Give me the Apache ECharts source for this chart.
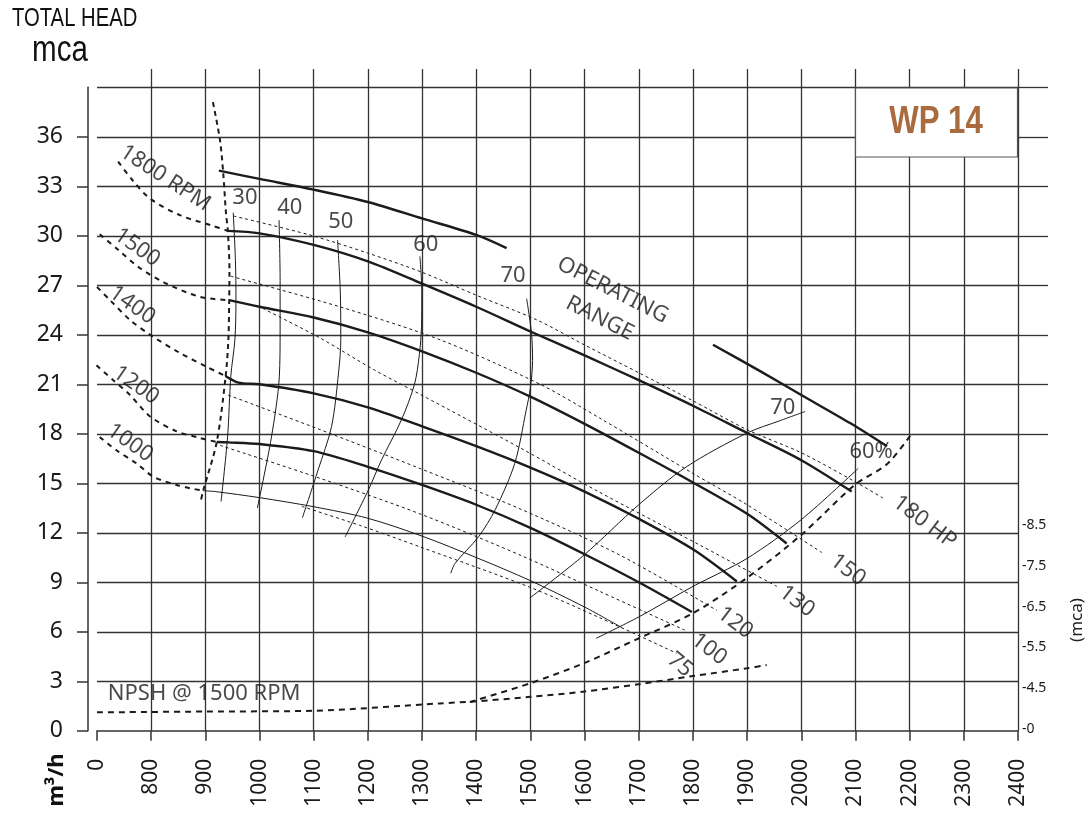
<!DOCTYPE html>
<html>
<head>
<meta charset="utf-8">
<title>WP 14</title>
<script src="https://cdn.jsdelivr.net/npm/echarts@6/dist/echarts.min.js"></script>
<style>
  html, body { margin: 0; padding: 0; background: #fff; }
  #chart { width: 1091px; height: 815px; }
</style>
</head>
<body>
<div id="chart"></div>
<script>
// flow in m3/h (the axis is broken: 700 is printed as "0"), head in mca
const head1800 = [[941, 30.3], [1000, 30.15], [1100, 29.45], [1200, 28.45], [1300, 27.1], [1400, 25.7], [1500, 24.2], [1600, 22.75], [1700, 21.25], [1800, 19.7], [1900, 18.05], [2000, 16.4], [2093, 14.5]];
const head1500 = [[944, 26.1], [1000, 25.7], [1100, 25.05], [1200, 24.15], [1300, 23.0], [1400, 21.7], [1500, 20.25], [1600, 18.6], [1700, 16.85], [1800, 15.05], [1900, 13.15], [1973, 11.35]];
const head1400 = [[937, 21.5], [961, 21.1], [1000, 21.0], [1100, 20.45], [1200, 19.6], [1300, 18.45], [1400, 17.25], [1500, 15.95], [1600, 14.5], [1700, 12.85], [1800, 11.0], [1881, 9.05]];
const head1200 = [[921, 17.5], [942, 17.48], [1000, 17.38], [1100, 16.95], [1200, 16.0], [1300, 14.9], [1400, 13.7], [1500, 12.3], [1600, 10.7], [1700, 9.0], [1798, 7.2]];
const head1000 = [[896, 14.55], [918, 14.5], [1000, 14.13], [1100, 13.58], [1200, 12.88], [1300, 11.8], [1400, 10.5], [1500, 9.1], [1600, 7.5], [1669, 6.25]];

// operating range limits
const rangeTop = [[925, 33.95], [1000, 33.45], [1100, 32.8], [1200, 32.05], [1300, 31.05], [1400, 30.05], [1456, 29.25]];
const rangeRight = [[1837, 23.4], [1924, 21.8], [2000, 20.35], [2090, 18.65], [2158, 17.25]];
const rangeLeft = [[914, 38.1], [927, 35.8], [933, 33.8], [938, 31.4], [941.5, 30.3], [944.5, 27.9], [944, 26.1], [942.5, 23.7], [937.5, 21.5], [921, 17.5], [896, 14.55], [892, 14.0]];

// low flow part of each speed (dashed)
const rpm1800 = [[739, 34.5], [766, 33.35], [798, 32.25], [853, 31.25], [914, 30.6], [941, 30.3]];
const rpm1500 = [[705, 30.1], [739, 29.15], [779, 28.05], [825, 27.15], [890, 26.3], [944, 26.1]];
const rpm1400 = [[700, 26.9], [724, 26.1], [761, 24.9], [798, 24.0], [853, 22.9], [903, 22.05], [937, 21.5]];
const rpm1200 = [[699, 22.15], [730, 21.25], [761, 20.35], [798, 19.05], [847, 18.15], [890, 17.75], [921, 17.5]];
const rpm1000 = [[705, 17.8], [736, 17.0], [773, 16.2], [804, 15.4], [847, 14.9], [872, 14.7], [896, 14.55]];

// efficiency %
const eff30 = [[951.5, 31.4], [955.5, 28.5], [956.5, 26.1], [954.5, 23.7], [947, 21.5], [941, 17.8], [929, 13.9]];
const eff40 = [[1036, 30.95], [1038, 27.3], [1038, 24.3], [1036.5, 21.45], [1022, 17.8], [996, 13.5]];
const eff50 = [[1144, 29.75], [1149, 26.7], [1150, 23.7], [1146, 21.75], [1133, 18.45], [1108, 15.8], [1079, 12.9]];
const eff60 = [[1296, 28.75], [1299.5, 26.7], [1299, 24.5], [1295, 22.8], [1286, 21.0], [1262, 18.85], [1225, 16.4], [1201, 14.6], [1158, 11.75]];
const eff70 = [[1493, 26.2], [1502, 24.1], [1504, 22.45], [1500, 20.8], [1492, 19.4], [1471, 16.2], [1435, 13.4], [1404, 11.75], [1361, 10.15], [1353, 9.55]];
const eff70b = [[1499, 8.05], [1599, 10.65], [1700, 13.7], [1788, 16.0], [1900, 18.05], [1961, 18.8], [2007, 19.35]];
const eff60b = [[1621, 5.6], [1700, 6.9], [1800, 8.75], [1900, 10.45], [2000, 12.8], [2105, 15.9]];

// power, HP
const hp180 = [[952, 31.2], [1093, 30.05], [1200, 28.95], [1299, 27.8], [1400, 26.4], [1512, 24.9], [1599, 23.4], [1700, 21.7], [1800, 20.0], [1900, 18.25], [2000, 16.85], [2099, 15.1], [2151, 14.1]];
const hp150 = [[947, 27.55], [1148, 25.7], [1333, 23.7], [1518, 21.0], [1628, 18.95], [1800, 15.6], [1900, 13.7], [2038, 10.8]];
const hp130 = [[1006, 25.6], [1112, 23.8], [1213, 21.85], [1296, 20.4], [1481, 17.15], [1628, 14.45], [1813, 11.25], [1955, 8.75]];
const hp120 = [[942, 20.35], [1112, 18.25], [1296, 15.9], [1481, 13.45], [1665, 10.65], [1844, 7.3]];
const hp100 = [[927, 17.3], [1112, 15.3], [1296, 13.15], [1481, 10.65], [1628, 8.45], [1785, 6.1]];
const hp75 = [[1078, 13.6], [1185, 12.45], [1296, 11.15], [1499, 8.7], [1628, 6.85], [1770, 4.7]];

// NPSH, mca (right scale; 3.5 is printed as "0")
const npsh1500 = [[700, 3.91], [900, 3.93], [1100, 3.95], [1333, 4.13], [1400, 4.18], [1500, 4.29], [1600, 4.42], [1700, 4.6], [1800, 4.8], [1900, 4.99], [1936, 5.07]];
const npshLimit = [[1388, 4.16], [1499, 4.62], [1598, 5.11], [1696, 5.7], [1800, 6.34], [1899, 7.2], [2000, 8.26], [2100, 9.5], [2158, 9.99], [2201, 10.69]];
const npshTicks = [3.5, 4.5, 5.5, 6.5, 7.5, 8.5];

// curve labels: text, flow, head, angle
const notes = [
  ['30', 973, 32.3, 0], ['40', 1056, 31.7, 0], ['50', 1150, 30.85, 0], ['60', 1307, 29.45, 0], ['70', 1468, 27.55, 0],
  ['70', 1966, 19.6, 0], ['60%', 2129, 16.9, 0],
  ['180 HP', 2228, 12.65, -37], ['150', 2086, 9.75, -37], ['130', 1992, 7.85, -37],
  ['120', 1878, 6.55, -37], ['100', 1830, 4.95, -37], ['75', 1776, 4.0, -40],
  ['1800 RPM', 826, 33.5, -33], ['1500', 774, 29.3, -35], ['1400', 765, 25.8, -35],
  ['1200', 772, 20.95, -35], ['1000', 761, 17.45, -35],
  ['OPERATING', 1652, 26.7, -27], ['RANGE', 1628, 25.0, -27]
];

const ink = '#1b1b1b';
const gridColor = '#333';
const font = '"Noto Sans", "Open Sans", sans-serif';
const arial = '"Liberation Sans", Arial, sans-serif';

function curve(data, width, type, yAxisIndex) {
  return {
    type: 'line',
    data: data,
    yAxisIndex: yAxisIndex || 0,
    symbol: 'none',
    smooth: 0.3,
    silent: true,
    lineStyle: { color: ink, width: width, type: type || 'solid' },
    z: 3
  };
}

const chart = echarts.init(document.getElementById('chart'));

const options = {
  animation: false,
  backgroundColor: '#fff',
  grid: [
    { left: 97, right: 73, top: 87.3, bottom: 84.2 },
    { left: 97, right: 73, top: 69, height: 18.3 },
    { left: 1018, right: 43, top: 87.3, bottom: 381 }
  ],
  xAxis: [
    {
      type: 'value', gridIndex: 0, min: 700, max: 2400, interval: 100, offset: 8,
      axisLine: { show: true, lineStyle: { color: gridColor, width: 1.5 } },
      axisTick: { show: true, length: 10, lineStyle: { color: gridColor, width: 1.5 } },
      axisLabel: {
        rotate: 90, margin: 20, fontSize: 21, color: '#1a1a1a', fontFamily: font,
        formatter: v => (v === 700 ? '0' : String(v))
      },
      splitLine: { show: true, showMinLine: false, lineStyle: { color: gridColor, width: 1.3 } }
    },
    {
      type: 'value', gridIndex: 1, min: 700, max: 2400, interval: 100,
      axisLine: { show: false }, axisTick: { show: false }, axisLabel: { show: false },
      splitLine: { show: true, showMinLine: false, lineStyle: { color: gridColor, width: 1.3 } }
    },
    { type: 'value', gridIndex: 2, min: 0, max: 1, show: false }
  ],
  yAxis: [
    {
      type: 'value', gridIndex: 0, min: 0, max: 39, interval: 3, offset: 9,
      axisLine: { show: true, lineStyle: { color: gridColor, width: 1.5 } },
      axisTick: { show: true, length: 11, lineStyle: { color: gridColor, width: 1.5 } },
      axisLabel: { margin: 25, fontSize: 23, color: '#1a1a1a', fontFamily: font, showMaxLabel: false },
      splitLine: { show: true, showMinLine: false, lineStyle: { color: gridColor, width: 1.3 } }
    },
    {
      type: 'value', gridIndex: 0, position: 'right', min: 3.458, max: 19.23,
      axisLine: { show: false }, axisTick: { show: false }, splitLine: { show: false },
      axisLabel: {
        customValues: npshTicks, margin: 4, fontSize: 14, color: '#1a1a1a', fontFamily: font,
        formatter: v => '-' + (v < 4 ? '0' : v.toFixed(1))
      }
    },
    { type: 'value', gridIndex: 1, min: 0, max: 1, show: false },
    {
      type: 'value', gridIndex: 2, min: 18, max: 39, interval: 3,
      axisLine: { show: false }, axisTick: { show: false }, axisLabel: { show: false },
      splitLine: { show: true, lineStyle: { color: gridColor, width: 1.3 } }
    }
  ],
  graphic: [
    { type: 'text', x: 12, y: 7, scaleX: 0.81, style: { text: 'TOTAL HEAD', font: '25px ' + arial, fill: '#111', verticalAlign: 'top' } },
    { type: 'text', x: 32, y: 32, scaleX: 0.8, style: { text: 'mca', font: '37px ' + arial, fill: '#111', verticalAlign: 'top' } },
    {
      type: 'rect', z: 10, shape: { x: 855.5, y: 88, width: 162, height: 69 },
      style: { fill: '#fff', stroke: '#555', lineWidth: 1.2 }
    },
    {
      type: 'text', z: 11, x: 936, y: 123, scaleX: 0.82,
      style: { text: 'WP 14', font: 'bold 38px ' + arial, fill: '#a96a3e', align: 'center', verticalAlign: 'middle' }
    },
    {
      type: 'text', x: 57, y: 780, rotation: Math.PI / 2,
      style: { text: 'm³/h', font: 'bold 22px ' + font, fill: '#111', align: 'center', verticalAlign: 'middle' }
    },
    {
      type: 'text', x: 1077, y: 620, rotation: Math.PI / 2,
      style: { text: '(mca)', font: '17px ' + font, fill: '#222', align: 'center', verticalAlign: 'middle' }
    }
  ],
  series: [
    curve(head1800, 2.4), curve(head1500, 2.4), curve(head1400, 2.4), curve(head1200, 2.4), curve(head1000, 1),
    curve(rangeTop, 2.4), curve(rangeRight, 2.4), curve(rangeLeft, 2, [5, 4]),
    curve(rpm1800, 2, [5, 5]), curve(rpm1500, 2, [5, 5]), curve(rpm1400, 2, [5, 5]),
    curve(rpm1200, 2, [5, 5]), curve(rpm1000, 2, [5, 5]),
    curve(eff30, 1), curve(eff40, 1), curve(eff50, 1), curve(eff60, 1), curve(eff70, 1),
    curve(eff70b, 1), curve(eff60b, 1),
    curve(hp180, 1, [3, 3]), curve(hp150, 1, [3, 3]), curve(hp130, 1, [3, 3]),
    curve(hp120, 1, [3, 3]), curve(hp100, 1, [3, 3]), curve(hp75, 1, [3, 3]),
    curve(npsh1500, 2, [6, 5], 1), curve(npshLimit, 2, [6, 5], 1),
    {
      type: 'scatter',
      symbolSize: 0,
      silent: true,
      z: 5,
      data: notes.map(n => ({ name: n[0], value: [n[1], n[2]], label: { rotate: n[3] } })),
      label: { show: true, position: 'inside', formatter: p => p.name, fontSize: 22, color: '#1a1a1a', fontFamily: font }
    },
    {
      type: 'scatter',
      symbolSize: 0,
      silent: true,
      z: 5,
      data: [{ name: 'NPSH @ 1500 RPM', value: [720, 2.23] }],
      label: { show: true, position: 'inside', align: 'left', formatter: p => p.name, fontSize: 22, color: '#1a1a1a', fontFamily: font }
    }
  ]
};

chart.setOption(options);
</script>
</body>
</html>
